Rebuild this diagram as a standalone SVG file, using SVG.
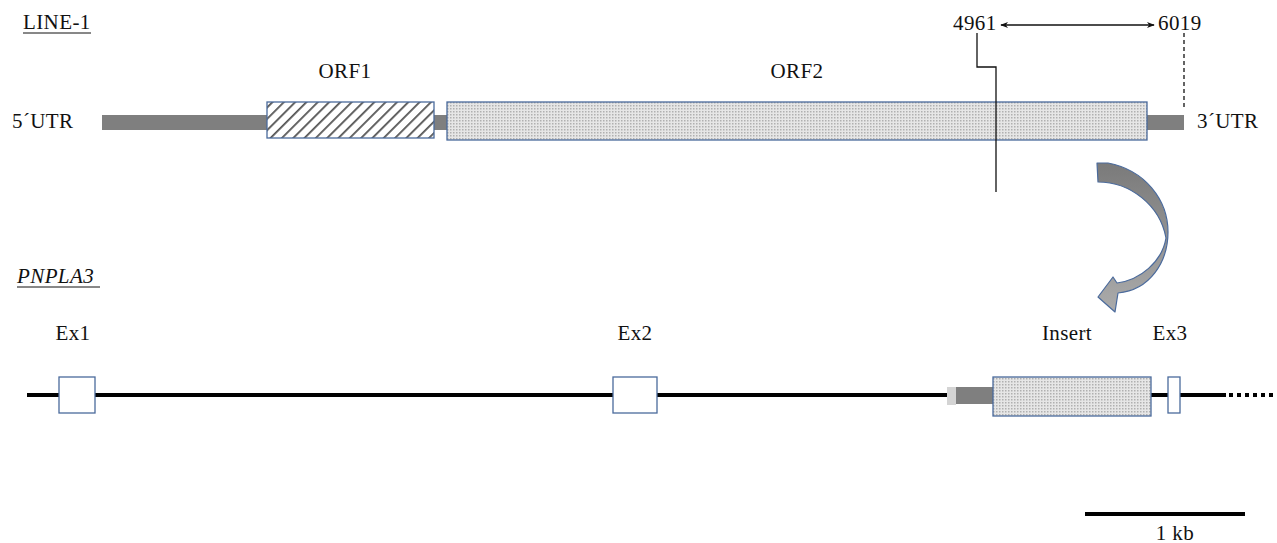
<svg xmlns="http://www.w3.org/2000/svg" width="1277" height="543" viewBox="0 0 1277 543">
<style>
text{font-family:"Liberation Serif","Times New Roman",serif;font-size:21px;fill:#111;letter-spacing:0.4px}
.box{stroke:#4a6a9c;stroke-width:1.3}
.bar{fill:#7f7f7f}
.blk{stroke:#000;stroke-width:4;fill:none}
.thin{stroke:#111;stroke-width:1.3;fill:none}
</style>
<defs>
<pattern id="hatch" width="8" height="8" patternUnits="userSpaceOnUse" patternTransform="rotate(45)">
<rect width="8" height="8" fill="#fff"/>
<rect x="0" y="0" width="1.8" height="8" fill="#555"/>
</pattern>
<pattern id="dots" width="3" height="3" patternUnits="userSpaceOnUse">
<rect width="3" height="3" fill="#e6e6e6"/>
<rect x="0" y="0" width="1.5" height="1.5" fill="#b0b0b0"/>
</pattern>
<linearGradient id="arrGrad" x1="0" y1="0" x2="0" y2="1">
<stop offset="0" stop-color="#7a7a7a"/>
<stop offset="1" stop-color="#ababab"/>
</linearGradient>
<marker id="ah" viewBox="0 0 10 10" refX="9" refY="5" markerWidth="8" markerHeight="8" orient="auto-start-reverse" markerUnits="userSpaceOnUse">
<path d="M0,1 L10,5 L0,9 L3,5 Z" fill="#111"/>
</marker>
</defs>

<g id="title-line1"><text x="23" y="29">LINE-1</text><line x1="23" y1="33" x2="91" y2="33" stroke="#111" stroke-width="1"/></g>
<g id="title-pnpla3"><text x="17" y="283" font-style="italic">PNPLA3</text><line x1="17" y1="287" x2="100" y2="287" stroke="#111" stroke-width="1"/></g>

<g id="line1-backbone">
<rect class="bar" x="102" y="115" width="1082" height="15"/>
<text x="12" y="128">5´UTR</text>
<text x="1197" y="128">3´UTR</text>
</g>
<g id="orf1">
<rect class="box" x="267" y="102" width="167" height="36" fill="url(#hatch)"/>
<text x="345" y="78" text-anchor="middle">ORF1</text>
</g>
<g id="orf2">
<rect class="box" x="447" y="102" width="700" height="38" fill="url(#dots)"/>
<text x="797" y="78" text-anchor="middle">ORF2</text>
</g>

<g id="pnpla3-backbone">
<line class="blk" x1="27" y1="395" x2="947" y2="395"/>
<line class="blk" x1="1151" y1="395" x2="1226" y2="395"/>
<line x1="1229" y1="395" x2="1277" y2="395" stroke="#000" stroke-width="4" stroke-dasharray="4,4"/>
<rect x="947" y="387" width="9" height="18" fill="#d4d4d4"/>
<rect class="bar" x="956" y="387" width="37" height="17"/>
</g>
<g id="ex1"><rect class="box" x="59" y="377" width="36" height="36" fill="#fff"/><text x="73" y="340" text-anchor="middle">Ex1</text></g>
<g id="ex2"><rect class="box" x="613" y="377" width="44" height="36" fill="#fff"/><text x="635" y="340" text-anchor="middle">Ex2</text></g>
<g id="insert"><rect class="box" x="993" y="377" width="158" height="39" fill="url(#dots)"/><text x="1067" y="340" text-anchor="middle">Insert</text></g>
<g id="ex3"><rect class="box" x="1168" y="377" width="12" height="36" fill="#fff"/><text x="1170" y="340" text-anchor="middle">Ex3</text></g>

<g id="coords">
<text x="953" y="30">4961</text>
<text x="1158" y="30">6019</text>
</g>

<g id="connectors">
<line class="thin" x1="1001" y1="25" x2="1154" y2="25" marker-start="url(#ah)" marker-end="url(#ah)"/>
<polyline class="thin" points="977,33 977,67 996,67 996,192"/>
<line x1="1184" y1="33" x2="1184" y2="109" stroke="#111" stroke-width="1.3" stroke-dasharray="4,3"/>
<path d="M1097,163 L1108,163 C1145,170 1168,200 1168,232 C1168,262 1150,290 1118,293 L1115,312 L1098,297 L1113,277 L1117,283 C1140,280 1162,262 1166,238 C1160,205 1130,182 1098,182 Z" fill="url(#arrGrad)" stroke="#4a6a9c" stroke-width="1.2" stroke-linejoin="round"/>
</g>

<g id="scale">
<line class="blk" x1="1085" y1="514" x2="1245" y2="514"/>
<text x="1175" y="540" text-anchor="middle">1 kb</text>
</g>
</svg>
